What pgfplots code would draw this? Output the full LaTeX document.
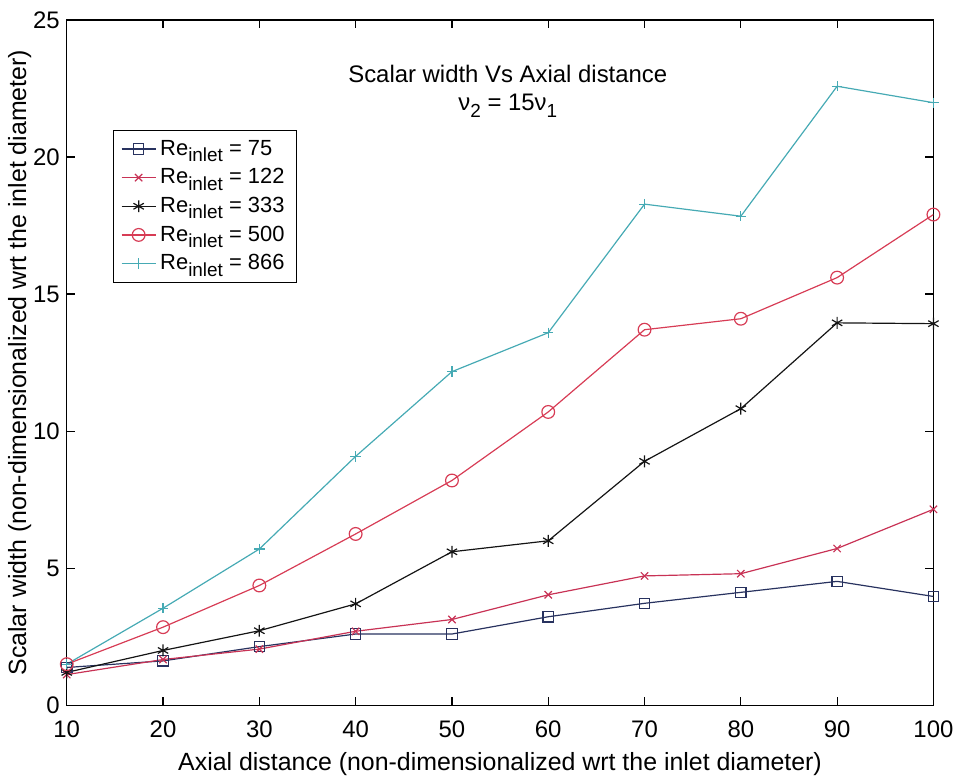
\documentclass[border=0pt]{standalone}
\usepackage{fontspec}
\setmainfont{Liberation Sans}
\usepackage{pgfplots}
\pgfplotsset{compat=1.18}
\usetikzlibrary{calc}

\definecolor{cA}{RGB}{40,50,95}
\definecolor{cB}{RGB}{200,50,85}
\definecolor{cC}{RGB}{20,20,20}
\definecolor{cD}{RGB}{215,60,85}
\definecolor{cE}{RGB}{70,170,180}

% MATLAB-like subscript: large and set low
\newcommand{\sub}[1]{\raisebox{-0.55ex}{\fontsize{9.5}{10}\selectfont #1}}

\begin{document}
\begin{tikzpicture}
\begin{axis}[
    scale only axis,
    width=435pt, height=344pt,
    xmin=10, xmax=100, ymin=0, ymax=25,
    xtick={10,20,...,100}, ytick={0,5,...,25},
    tick align=inside,
    major tick length=4pt,
    axis line style={line width=0.6pt},
    every tick/.style={line width=0.6pt, black},
    /pgf/number format/assume math mode=true,
    tick label style={font=\fontsize{12}{14}\selectfont},
    xticklabel style={yshift=-4pt},
    xlabel={Axial distance (non-dimensionalized wrt the inlet diameter)},
    ylabel={Scalar width (non-dimensionalized wrt the inlet diameter)},
    label style={font=\fontsize{12.5}{14}\selectfont},
    xlabel style={yshift=-1pt},
    ylabel style={yshift=-6pt},
    legend style={at={(axis cs:14.76,21.0)}, anchor=north west,
        font=\fontsize{11}{13}\selectfont, cells={anchor=west},
        draw=black, line width=0.5pt, inner xsep=4pt, inner ysep=3pt, row sep=1.2pt},
    every axis plot/.append style={line width=0.6pt},
]
\addplot[cA, mark=square, mark size=2.6pt] coordinates {
  (10,1.38) (20,1.62) (30,2.14) (40,2.6) (50,2.6) (60,3.23) (70,3.72) (80,4.12) (90,4.52) (100,3.97)
};
\addlegendentry{Re\sub{inlet} = 75}
\addplot[cB, mark=x, mark size=2.6pt] coordinates {
  (10,1.12) (20,1.67) (30,2.05) (40,2.7) (50,3.13) (60,4.03) (70,4.72) (80,4.8) (90,5.72) (100,7.15)
};
\addlegendentry{Re\sub{inlet} = 122}
\addplot[cC, mark=asterisk, mark size=3pt] coordinates {
  (10,1.2) (20,2.0) (30,2.72) (40,3.7) (50,5.6) (60,6.0) (70,8.9) (80,10.82) (90,13.95) (100,13.92)
};
\addlegendentry{Re\sub{inlet} = 333}
\addplot[cD, mark=o, mark size=3.2pt] coordinates {
  (10,1.5) (20,2.85) (30,4.37) (40,6.25) (50,8.2) (60,10.7) (70,13.7) (80,14.1) (90,15.6) (100,17.9)
};
\addlegendentry{Re\sub{inlet} = 500}
\addplot[cE, mark=+, mark size=2.6pt] coordinates {
  (10,1.5) (20,3.54) (30,5.7) (40,9.08) (50,12.17) (60,13.59) (70,18.28) (80,17.84) (90,22.58) (100,21.98)
};
\addlegendentry{Re\sub{inlet} = 866}
\node[align=center, font=\fontsize{12}{14}\selectfont, inner sep=0pt] at (axis cs:55.8,22.4)
  {Scalar width Vs Axial distance\\ν\sub{2} = 15ν\sub{1}};
\end{axis}
\path (current axis.south west) ++(-33.5pt,-33pt) coordinate (bl);
\path (current axis.north east) ++(11.5pt,10pt) coordinate (tr);
\path[use as bounding box] (bl) rectangle (tr);
\end{tikzpicture}
\end{document}
